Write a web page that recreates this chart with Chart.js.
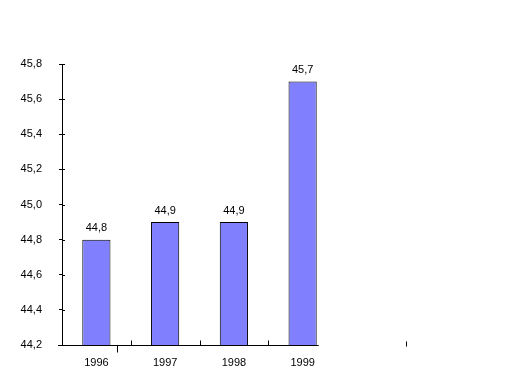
<!DOCTYPE html>
<html><head><meta charset="utf-8">
<script src="https://cdn.jsdelivr.net/npm/chart.js@4/dist/chart.umd.min.js"></script>
<style>html,body{margin:0;padding:0;background:#fff}#w{width:520px;height:384px}</style>
</head><body><div id="w"><canvas id="c" width="520" height="384"></canvas></div>
<script>
const categories = ["1996", "1997", "1998", "1999"];
const values = [44.8, 44.9, 44.9, 45.7];
const yMin = 44.2, yMax = 45.8, yStep = 0.2;

const fmt = v => v.toFixed(1).replace('.', ',');
const FONT = {family: '"Liberation Sans", Arial, sans-serif', size: 11};

const decor = {
  id: 'decor',
  afterDatasetsDraw(chart) {
    const ctx = chart.ctx, a = chart.chartArea, x = chart.scales.x, y = chart.scales.y;
    const meta = chart.getDatasetMeta(0);
    ctx.save();
    ctx.strokeStyle = '#000'; ctx.lineWidth = 1;
    // value labels
    ctx.fillStyle = '#000';
    ctx.font = '11px "Liberation Sans", Arial, sans-serif';
    ctx.textAlign = 'center'; ctx.textBaseline = 'bottom';
    meta.data.forEach((b, i) => ctx.fillText(fmt(values[i]), b.x, b.y - 6));
    // x axis line
    const last = meta.data[meta.data.length - 1];
    const step = x.getPixelForValue(1) - x.getPixelForValue(0);
    const by = Math.round(a.bottom) + 0.5;
    ctx.beginPath();
    ctx.moveTo(a.left - 4, by); ctx.lineTo(last.x + last.width / 2 + 2, by);
    // inner tick marks at category boundaries
    for (let i = 1; i < categories.length; i++) {
      const px = Math.round(a.left + i * step) + 0.5;
      ctx.moveTo(px, by - 5); ctx.lineTo(px, by);
    }
    // stray ticks
    let px = Math.round(a.left + 0.8 * step) + 0.5;
    ctx.moveTo(px, by); ctx.lineTo(px, by + 7);
    px = Math.round(a.left + 5 * step) + 0.5;
    ctx.moveTo(px, by - 4); ctx.lineTo(px, by + 1);
    // y inner ticks
    y.ticks.forEach(t => {
      const py = Math.round(y.getPixelForValue(t.value)) + 0.5;
      ctx.moveTo(a.left, py); ctx.lineTo(a.left + 3, py);
    });
    ctx.stroke();
    ctx.restore();
  }
};

new Chart(document.getElementById('c'), {
  type: 'bar',
  data: {
    labels: categories,
    datasets: [{
      data: values,
      backgroundColor: '#8080FF',
      borderColor: '#000',
      borderWidth: 1,
      borderSkipped: false,
      barPercentage: 0.41,
      categoryPercentage: 1
    }]
  },
  options: {
    responsive: false,
    animation: false,
    layout: {padding: {top: 64, right: 183, left: 0, bottom: 0}},
    plugins: {legend: {display: false}, tooltip: {enabled: false}},
    scales: {
      x: {
        grid: {display: false, drawTicks: false},
        border: {display: false},
        ticks: {color: '#000', font: FONT, padding: 11, maxRotation: 0},
        afterFit(s) { s.height = 39; }
      },
      y: {
        min: yMin, max: yMax,
        grid: {drawOnChartArea: false, drawTicks: true, tickLength: 3, color: '#000'},
        border: {display: true, color: '#000', width: 1},
        ticks: {stepSize: yStep, color: '#000', font: FONT, padding: 17,
                callback: v => fmt(v)},
        afterFit(s) { s.width = 62; }
      }
    }
  },
  plugins: [decor]
});
</script></body></html>
